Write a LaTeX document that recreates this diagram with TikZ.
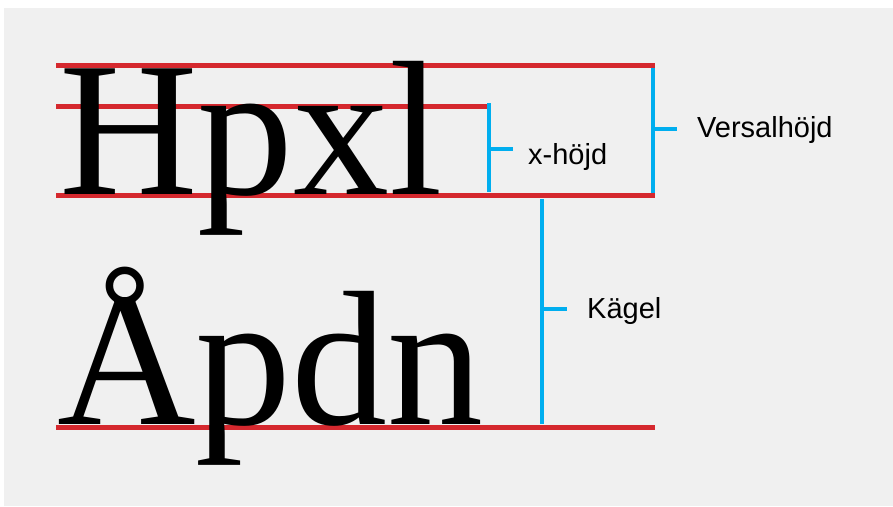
\documentclass[tikz,border=0pt]{standalone}
\usepackage{fontspec}
\setmainfont{Liberation Serif}
\newfontfamily\labelfont{Liberation Sans}
\usepackage{xcolor}
\usepackage{tikz}
\definecolor{guidered}{RGB}{213,40,46}
\definecolor{bracketblue}{RGB}{0,174,239}
\definecolor{paper}{RGB}{240,240,240}
\tikzset{
    guide/.style={draw=guidered,line width=5pt},
    bracket/.style={draw=bracketblue,line width=4.5pt},
    sample/.style={anchor=base west,inner sep=0pt,font=\fontsize{192}{192}\selectfont},
    caption/.style={anchor=base west,inner sep=0pt,font=\labelfont\fontsize{29}{29}\selectfont}
}

\begin{document}
\begin{tikzpicture}[x=1pt,y=-1pt]
        \useasboundingbox (0,0) rectangle (893,506);
        \fill[paper] (4,8) rectangle (893,506);

        % guide lines
        \coordinate (capL) at (56,65);   \coordinate (capR) at (655,65);
        \coordinate (xhL)  at (56,106);  \coordinate (xhR)  at (487,106);
        \coordinate (baseL) at (56,195); \coordinate (baseR) at (655,195);
        \coordinate (lowL) at (56,427);  \coordinate (lowR) at (655,427);
        \draw[guide] (capL) -- (capR);
        \draw[guide] (xhL) -- (xhR);
        \draw[guide] (baseL) -- (baseR);
        \draw[guide] (lowL) -- (lowR);

        % sample words
        \draw (59,194) node[sample](upper){Hpxl};
        \draw (57,424) node[sample](lower){Åpdn};

        % labels
        \draw (528,164) node[caption](xh){x-höjd};
        \draw (697,137) node[caption](versal){Versalhöjd};
        \draw (587,318) node[caption](kegel){Kägel};

        % brackets
        \coordinate (xhT) at (489,103);  \coordinate (xhB) at (489,192);
        \coordinate (xhM) at (489,149);
        \draw[bracket] (xhT) -- (xhB);
        \draw[bracket] (xhM) -- ++(24,0);

        \coordinate (vsT) at (653,68);   \coordinate (vsB) at (653,193);
        \coordinate (vsM) at (653,129);
        \draw[bracket] (vsT) -- (vsB);
        \draw[bracket] (vsM) -- ++(24,0);

        \coordinate (kgT) at (542,199);  \coordinate (kgB) at (542,424);
        \coordinate (kgM) at (542,309);
        \draw[bracket] (kgT) -- (kgB);
        \draw[bracket] (kgM) -- ++(25,0);
    \end{tikzpicture}
\end{document}
